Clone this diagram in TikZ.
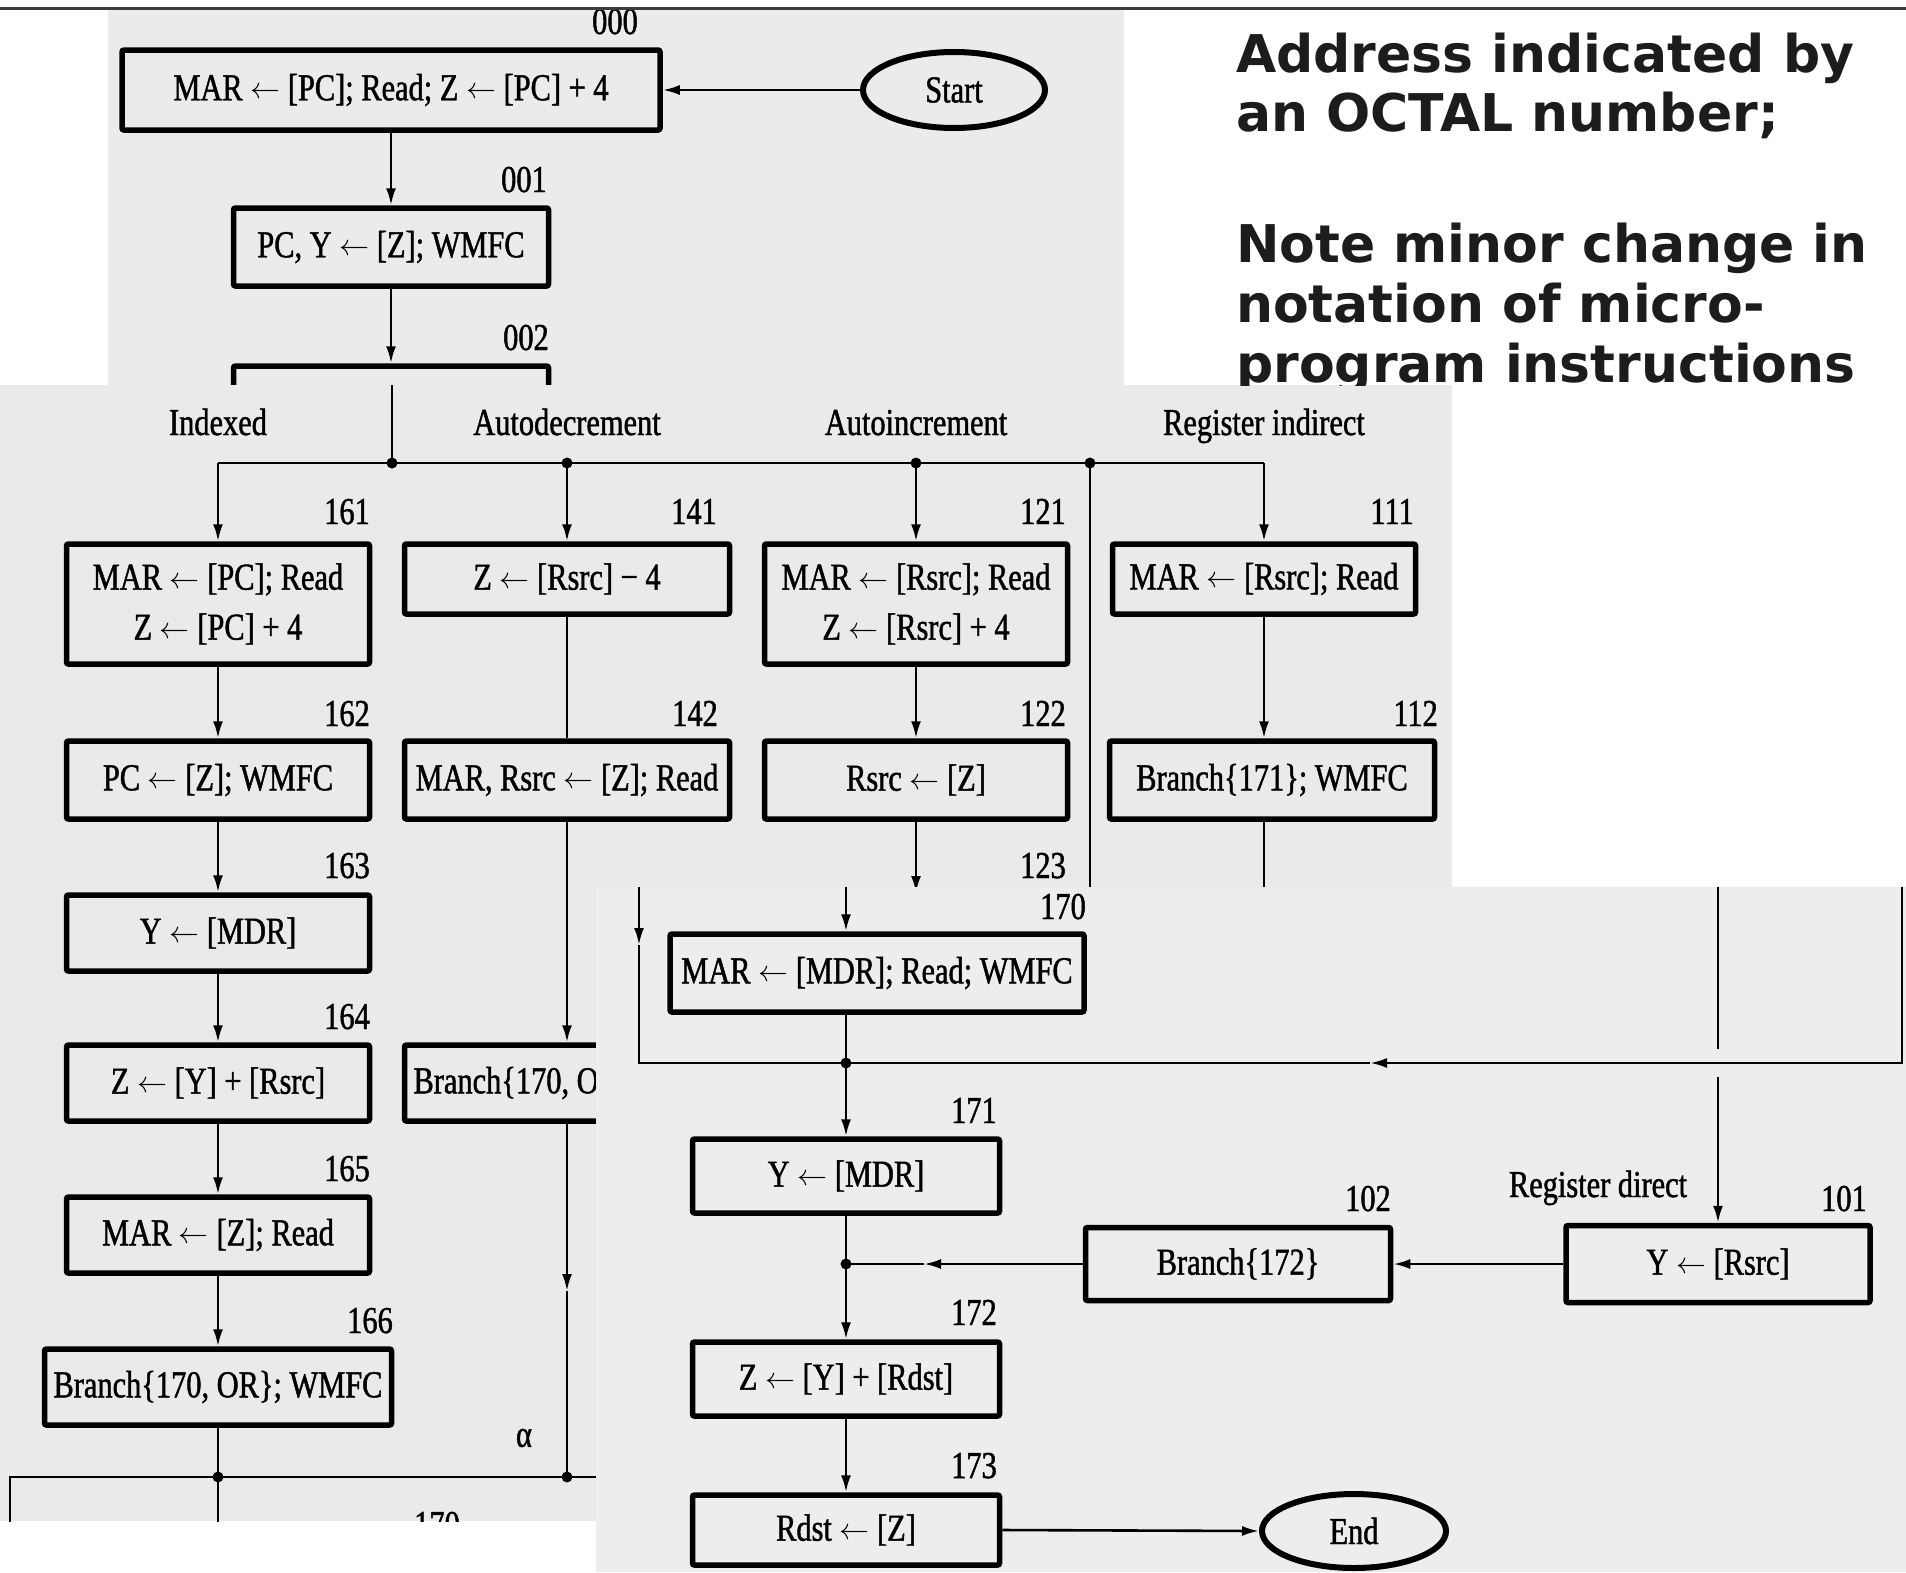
\documentclass[tikz,border=0pt]{standalone}
\usepackage{graphicx}
\usepackage{fontspec}
\usetikzlibrary{arrows.meta,shapes.geometric}
\newfontfamily\scanfont{Liberation Serif}[FakeStretch=0.80,FakeBold=1.2]
\newfontfamily\notefont{DejaVu Sans}
% transfer arrow of the register-transfer notation
\newcommand\larr{\raisebox{1.5pt}{\resizebox{30pt}{!}{\fontsize{10}{12}\selectfont$\boldsymbol{\leftarrow}$}}}
\providecommand\boldsymbol[1]{\mathbf{#1}}
\definecolor{sheetA}{HTML}{EBEBEB}
\definecolor{sheetB}{HTML}{EAEAEA}
\definecolor{sheetC}{HTML}{EDEDED}
\definecolor{rule}{HTML}{3C3C3C}
\definecolor{ink}{HTML}{1C1C1C}
\begin{document}
\begin{tikzpicture}[x=1pt,y=-1pt,
  bx/.style={draw, line width=5.5pt, rounded corners=2pt, inner sep=0pt,
    font=\scanfont\fontsize{38}{50}\selectfont, align=center},
  ov/.style={ellipse, draw, line width=6pt, inner sep=0pt,
    font=\scanfont\fontsize{38}{40}\selectfont},
  tag/.style={font=\scanfont\fontsize{38}{40}\selectfont, inner sep=0pt},
  ln/.style={line width=2.6pt},
  arr/.style={ln, -{Latex[length=17pt,width=10pt]}},
  note/.style={font=\notefont\bfseries\fontsize{52}{60}\selectfont, text=ink,
    inner sep=0pt, anchor=base west}
]
\useasboundingbox (0,0) rectangle (1906,1572);
\fill[white] (0,0) rectangle (1906,1572);

% ---------------- upper sheet: fetch ----------------
\begin{scope}
\fill[sheetA] (108,10) rectangle (1124,385);
\clip (108,10) rectangle (1124,385);
\node[bx, minimum width=538, minimum height=80] (b000) at (391,90) {MAR \larr{} [PC]; Read; Z \larr{} [PC] + 4};
\node[ov, minimum width=182, minimum height=76] (start) at (954,90) {Start};
\node[bx, minimum width=315, minimum height=78] (b001) at (391,247) {PC, Y \larr{} [Z]; WMFC};
\node[bx, minimum width=315, minimum height=78] (b002) at (391,405) {};
\node[tag, anchor=base east] (t000) at (638,34) {000};
\node[tag, anchor=base east] (t001) at (547,192) {001};
\node[tag, anchor=base east] (t002) at (549,350) {002};
\draw[arr] (start.west) -- (b000.east);
\draw[arr] (b000) -- (b001);
\draw[arr] (b001) -- (b002);
\end{scope}

% ---------------- middle sheet: source operand modes ----------------
\begin{scope}
\fill[sheetB] (0,385) rectangle (1452,1521);
\clip (0,385) rectangle (1452,1521);
% dispatch bus
\coordinate (p2top) at (392,380);
\coordinate (jtop) at (392,463);
\coordinate (hL) at (218,463);
\coordinate (jdec) at (567,463);
\coordinate (jinc) at (916,463);
\coordinate (jdir) at (1090,463);
\coordinate (hR) at (1264,463);
\draw[ln] (p2top) -- (jtop);
\draw[ln] (hL) -- (hR);
\foreach \p in {jtop,jdec,jinc,jdir} \fill (\p) circle (5.5);
\node[tag, anchor=base] (mInd) at (218,435) {Indexed};
\node[tag, anchor=base] (mDec) at (567,435) {Autodecrement};
\node[tag, anchor=base] (mInc) at (916,435) {Autoincrement};
\node[tag, anchor=base] (mRin) at (1264,435) {Register indirect};

% indexed column
\node[bx, minimum width=303, minimum height=120] (b161) at (218,604) {MAR \larr{} [PC]; Read\\Z \larr{} [PC] + 4};
\node[bx, minimum width=303, minimum height=78] (b162) at (218,780) {PC \larr{} [Z]; WMFC};
\node[bx, minimum width=303, minimum height=76] (b163) at (218,933) {Y \larr{} [MDR]};
\node[bx, minimum width=303, minimum height=76] (b164) at (218,1083) {Z \larr{} [Y] + [Rsrc]};
\node[bx, minimum width=303, minimum height=76] (b165) at (218,1235) {MAR \larr{} [Z]; Read};
\node[bx, minimum width=347, minimum height=76] (b166) at (218,1387) {Branch\{170, OR\}; WMFC};
\node[tag, anchor=base east] (t161) at (370,524) {161};
\node[tag, anchor=base east] (t162) at (370,726) {162};
\node[tag, anchor=base east] (t163) at (370,878) {163};
\node[tag, anchor=base east] (t164) at (370,1029) {164};
\node[tag, anchor=base east] (t165) at (370,1181) {165};
\node[tag, anchor=base east] (t166) at (393,1333) {166};
\draw[arr] (hL) -- (b161);
\draw[arr] (b161) -- (b162);
\draw[arr] (b162) -- (b163);
\draw[arr] (b163) -- (b164);
\draw[arr] (b164) -- (b165);
\draw[arr] (b165) -- (b166);

% autodecrement column
\node[bx, minimum width=325, minimum height=70] (b141) at (567,579) {Z \larr{} [Rsrc] − 4};
\node[bx, minimum width=325, minimum height=78] (b142) at (567,780) {MAR, Rsrc \larr{} [Z]; Read};
\node[bx, minimum width=347, minimum height=76] (b143) at (578,1083) {Branch\{170, OR\}; WMFC};
\node[tag, anchor=base east] (t141) at (717,524) {141};
\node[tag, anchor=base east] (t142) at (718,726) {142};
\draw[arr] (jdec) -- (b141);
\draw[ln] (b141) -- (b142);
\draw[arr] (b142.south) -- (b142.south |- b143.north);
\coordinate (a2) at (567,1291);
\coordinate (jal) at (567,1477);
\draw[arr] (b142.south |- b143.south) -- (a2);
\draw[ln] (a2) -- (jal);
\node[tag, anchor=center] (alpha) at (524,1438) {α};

% merge line above entry 170
\coordinate (bl) at (10,1477);
\coordinate (jb1) at (218,1477);
\coordinate (br) at (760,1477);
\coordinate (blo) at (10,1530);
\coordinate (b1o) at (218,1530);
\draw[ln] (blo) -- (bl) -- (br);
\draw[ln] (b166.south) -- (jb1) -- (b1o);
\fill (jb1) circle (5.5);
\fill (jal) circle (5.5);
\node[tag, anchor=base east] (t170a) at (460,1537) {170};

% autoincrement column
\node[bx, minimum width=303, minimum height=120] (b121) at (916,604) {MAR \larr{} [Rsrc]; Read\\Z \larr{} [Rsrc] + 4};
\node[bx, minimum width=303, minimum height=78] (b122) at (916,780) {Rsrc \larr{} [Z]};
\node[tag, anchor=base east] (t121) at (1066,524) {121};
\node[tag, anchor=base east] (t122) at (1066,726) {122};
\node[tag, anchor=base east] (t123) at (1066,878) {123};
\coordinate (c123) at (916,893);
\draw[arr] (jinc) -- (b121);
\draw[arr] (b121) -- (b122);
\draw[arr] (b122) -- (c123);

% register direct branch line
\coordinate (cdir) at (1090,900);
\draw[ln] (jdir) -- (cdir);

% register indirect column
\node[bx, minimum width=303, minimum height=70] (b111) at (1264,579) {MAR \larr{} [Rsrc]; Read};
\node[bx, minimum width=325, minimum height=78] (b112) at (1272,780) {Branch\{171\}; WMFC};
\node[tag, anchor=base east] (t111) at (1414,524) {111};
\node[tag, anchor=base east] (t112) at (1438,726) {112};
\coordinate (c113) at (1264,900);
\draw[arr] (hR) -- (b111);
\draw[arr] (b111.south) -- (b111.south |- b112.north);
\draw[ln] (b111.south |- b112.south) -- (c113);
\end{scope}

% ---------------- lower sheet: operand fetch and add ----------------
\begin{scope}
\fill[sheetC] (596,887) rectangle (1906,1572);
\clip (596,887) rectangle (1906,1572);
\node[bx, minimum width=414, minimum height=78] (b170) at (877,973) {MAR \larr{} [MDR]; Read; WMFC};
\node[bx, minimum width=307, minimum height=74] (b171) at (846,1176) {Y \larr{} [MDR]};
\node[bx, minimum width=307, minimum height=74] (b172) at (846,1379) {Z \larr{} [Y] + [Rdst]};
\node[bx, minimum width=307, minimum height=70] (b173) at (846,1530) {Rdst \larr{} [Z]};
\node[bx, minimum width=305, minimum height=73] (b102) at (1238,1264) {Branch\{172\}};
\node[bx, minimum width=304, minimum height=77] (b101) at (1718,1264) {Y \larr{} [Rsrc]};
\node[ov, minimum width=184, minimum height=74] (end) at (1354,1531) {End};
\node[tag, anchor=base east] (t170) at (1086,919) {170};
\node[tag, anchor=base east] (t171) at (997,1123) {171};
\node[tag, anchor=base east] (t172) at (997,1325) {172};
\node[tag, anchor=base east] (t173) at (997,1478) {173};
\node[tag, anchor=base east] (t102) at (1391,1211) {102};
\node[tag, anchor=base east] (t101) at (1867,1211) {101};
\node[tag, anchor=base] (mRd) at (1598,1197) {Register direct};

% entry from the indexed / autodecrement paths
\coordinate (q170) at (846,880);
\draw[arr] (q170) -- (q170 |- b170.north);
\coordinate (jq) at (846,1063);
\draw[ln] (q170 |- b170.south) -- (jq);
\fill (jq) circle (5.5);
% bypass from the left
\coordinate (q1) at (639,880);
\coordinate (q2) at (639,945);
\coordinate (qL) at (639,1063);
\draw[arr] (q1) -- (q2);
\draw[ln] (q2) -- (qL) -- (jq);
% bypass from the right
\coordinate (qRt) at (1902,880);
\coordinate (qR) at (1902,1063);
\coordinate (qa) at (1370,1063);
\draw[arr] (qRt) -- (qR) -- (qa);
\draw[ln] (qa) -- (jq);
\draw[arr] (jq) -- (b171);
% register direct entry, crossing the bypass
\coordinate (r1) at (1718,880);
\coordinate (r2) at (1718,1049);
\coordinate (r3) at (1718,1077);
\draw[ln] (r1) -- (r2);
\draw[arr] (r3) -- (b101);
\draw[arr] (b101) -- (b102);
\coordinate (j172) at (846,1264);
\coordinate (ja) at (924,1264);
\draw[arr] (b102) -- (ja);
\draw[ln] (ja) -- (j172);
\draw[ln] (b171) -- (j172);
\fill (j172) circle (5.5);
\draw[arr] (j172) -- (b172);
\draw[arr] (b172) -- (b173);
\draw[arr] (b173.east) -- (end.west);
\end{scope}

% ---------------- side note ----------------
\begin{scope}
\clip (1124,0) rectangle (1906,385);
\node[note] (n1) at (1236,72) {Address indicated by};
\node[note] (n2) at (1236,131) {an OCTAL number;};
\node[note] (n3) at (1236,262) {Note minor change in};
\node[note] (n4) at (1236,322) {notation of micro-};
\node[note] (n5) at (1236,382) {program instructions};
\end{scope}

% top rule
\draw[rule, line width=3.5pt] (0,8.5) -- (1906,8.5);
\end{tikzpicture}
\end{document}
